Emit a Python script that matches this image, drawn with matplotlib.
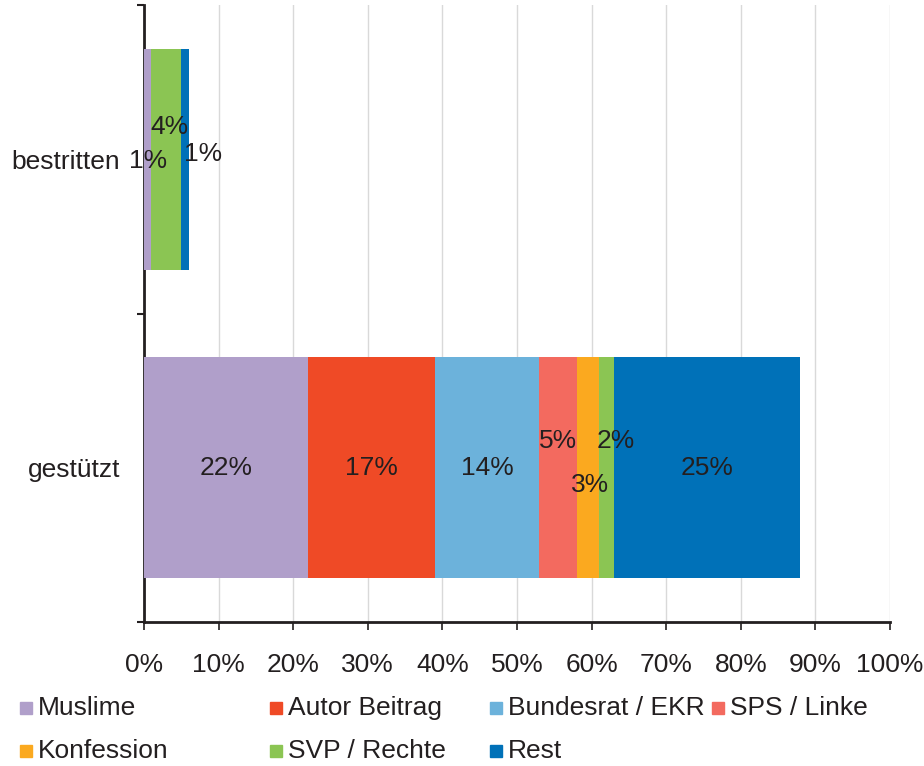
import matplotlib.pyplot as plt
from matplotlib.patches import Rectangle

plt.rcParams['font.family'] = ['Liberation Sans', 'DejaVu Sans']

categories = ["gestützt", "bestritten"]
series = ["Muslime", "Autor Beitrag", "Bundesrat / EKR", "SPS / Linke",
          "Konfession", "SVP / Rechte", "Rest"]
colors = ["#B09FCA", "#EF4A26", "#6CB2DB", "#F36A5F",
          "#FBA91F", "#8BC553", "#0071B8"]
gestuetzt = [22, 17, 14, 5, 3, 2, 25]
bestritten = [1, 0, 0, 0, 0, 4, 1]

# label offsets (points), mimicking Excel's collision avoidance
offs_g = [(0, 0), (0, 0), (0, 0), (0, 19.5), (1.5, -12.5), (7, 19.5), (0, 0)]
offs_b = [(0, -1), None, None, None, None, (2, 23), (13, 3.5)]

fig = plt.figure(figsize=(9.24, 7.66), dpi=100)
ax = fig.add_axes([144 / 924, 1 - 622 / 766, 746 / 924, 617 / 766])

values = [gestuetzt, bestritten]
offsets = [offs_g, offs_b]
for yi, (vals, offs) in enumerate(zip(values, offsets)):
    left = 0
    for i, v in enumerate(vals):
        if v > 0:
            ax.barh(yi, v, left=left, height=0.715, color=colors[i], zorder=3)
            dx, dy = offs[i]
            ax.annotate(f"{v}%", (left + v / 2, yi), xytext=(dx, dy),
                        textcoords="offset points", ha="center", va="center",
                        fontsize=19, color="#231F20", zorder=5)
        left += v

ax.set_xlim(0, 100)
ax.set_ylim(-0.5, 1.5)
ax.set_xticks(range(0, 101, 10))
ax.set_xticklabels([f"{t}%" for t in range(0, 101, 10)], fontsize=19, color="#231F20")
ax.set_yticks([0, 1])
ax.set_yticklabels(categories, fontsize=19, color="#231F20")
ax.set_yticks([-0.5, 0.5, 1.5], minor=True)
ax.tick_params(axis="y", which="major", length=0, pad=17)
ax.tick_params(axis="y", which="minor", length=5, width=1.5, color="#231F20")
ax.tick_params(axis="x", length=6, width=1.2, color="#231F20", pad=16)
ax.grid(axis="x", color="#D9D9D9", linewidth=1, zorder=0)
for s in ["top", "right"]:
    ax.spines[s].set_visible(False)
for s in ["left", "bottom"]:
    ax.spines[s].set_color("#231F20")
    ax.spines[s].set_linewidth(2)

# legend laid out like the original (4 columns, 2 rows)
col_x = [20, 270, 490, 712]
row_y = [708, 751]
for i, name in enumerate(series):
    x = col_x[i % 4]
    y = row_y[i // 4]
    fig.patches.append(Rectangle((x / 924, 1 - (y + 6) / 766), 12 / 924, 12 / 766,
                                 transform=fig.transFigure, color=colors[i]))
    fig.text((x + 18) / 924, 1 - y / 766, name, fontsize=19, color="#231F20",
             va="center", ha="left")

fig.savefig("out.png", dpi=100)
